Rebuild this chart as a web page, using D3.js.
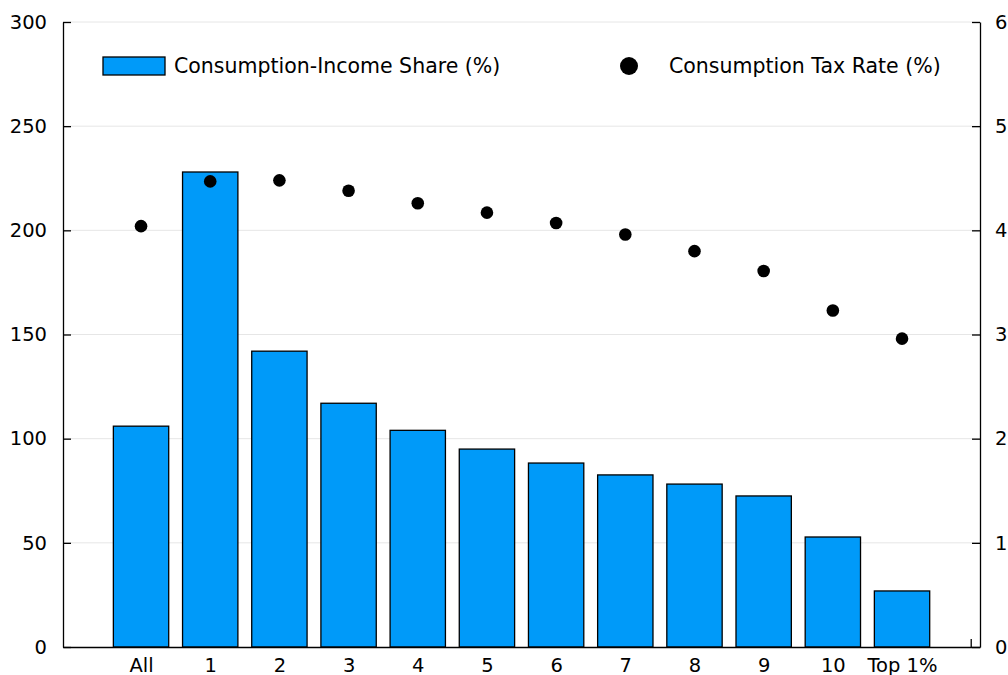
<!DOCTYPE html>
<html>
<head>
<meta charset="utf-8">
<script src="https://cdn.jsdelivr.net/npm/d3@7"></script>
<style>
  body { margin: 0; background: #fff; }
  svg { display: block; }
  svg text { font-family: "DejaVu Sans", sans-serif; }
</style>
</head>
<body>
<div id="chart"></div>
<script>
// data
const groups = ["All", "1", "2", "3", "4", "5", "6", "7", "8", "9", "10", "Top 1%"];
const shareValues = [106, 228, 142, 117, 104, 95, 88.3, 82.6, 78.2, 72.5, 52.8, 26.9];
const taxValues = [4.04, 4.47, 4.48, 4.38, 4.26, 4.17, 4.07, 3.96, 3.80, 3.61, 3.23, 2.96];
const leftTicks = [0, 50, 100, 150, 200, 250, 300];
const rightTicks = [0, 1, 2, 3, 4, 5, 6];

const W = 1008, H = 675;
// plot box edges
var box = { left: 63, right: 980, top: 22, bottom: 647 };
const blue = "#009af9";
const fontSize = 19.5;

const svg = d3.select("#chart").append("svg")
    .attr("width", W)
    .attr("height", H);

// scales
var x = d3.scaleLinear().domain([-0.128, 13.127]).range([box.left, box.right]);
var y = d3.scaleLinear().domain([0, 300]).range([box.bottom, box.top]);
var y2 = d3.scaleLinear().domain([0, 6]).range([box.bottom, box.top]);
const step = x(2) - x(1);
const barW = step * 0.8;

// grid
svg.append("g")
    .selectAll("line")
    .data(leftTicks.slice(1))
    .enter()
    .append("line")
    .attr("x1", box.left)
    .attr("x2", box.right)
    .attr("y1", d => y(d))
    .attr("y2", d => y(d))
    .attr("stroke", "#e6e6e6")
    .attr("stroke-width", 1);

// bars
svg.append("g")
    .selectAll("rect")
    .data(shareValues)
    .enter()
    .append("rect")
    .attr("x", (d, i) => x(i + 1) - barW / 2)
    .attr("width", barW)
    .attr("y", d => y(d))
    .attr("height", d => y(0) - y(d))
    .attr("fill", blue)
    .attr("stroke", "black")
    .attr("stroke-width", 1.3);

// dots
svg.append("g")
    .selectAll("circle")
    .data(taxValues)
    .enter()
    .append("circle")
    .attr("cx", (d, i) => x(i + 1))
    .attr("cy", d => y2(d))
    .attr("r", 6.3)
    .attr("fill", "black");

// left axis
const axL = svg.append("g")
    .attr("transform", "translate(" + box.left + ",0)")
    .call(d3.axisRight(y).tickValues(leftTicks).tickSize(8).tickSizeOuter(0));
axL.select(".domain").attr("stroke-width", 1.3);
axL.selectAll(".tick line").attr("stroke-width", 1.3);
axL.selectAll("text")
    .attr("x", -16)
    .attr("text-anchor", "end")
    .attr("font-size", fontSize)
    .attr("fill", "black");

// right axis
const axR = svg.append("g")
    .attr("transform", "translate(" + box.right + ",0)")
    .call(d3.axisLeft(y2).tickValues(rightTicks).tickSize(8).tickSizeOuter(0)
        .tickFormat(d3.format("d")));
axR.select(".domain").attr("stroke-width", 1.3);
axR.selectAll(".tick line").attr("stroke-width", 1.3);
axR.selectAll("text")
    .attr("x", 15)
    .attr("text-anchor", "start")
    .attr("font-size", fontSize)
    .attr("fill", "black");

// bottom axis
const axB = svg.append("g")
    .attr("transform", "translate(0," + box.bottom + ")")
    .call(d3.axisTop(x).tickValues(d3.range(1, 13)).tickSize(0).tickSizeOuter(0)
        .tickFormat((d) => groups[d - 1]));
axB.select(".domain").attr("stroke-width", 1.3);
axB.selectAll("text")
    .attr("y", 25)
    .attr("font-size", fontSize)
    .attr("fill", "black");
// small tick near the right end
svg.append("line")
    .attr("x1", x(13)).attr("x2", x(13))
    .attr("y1", box.bottom).attr("y2", box.bottom - 8)
    .attr("stroke", "black").attr("stroke-width", 1.3);

// legend
const leg = svg.append("g");
leg.append("rect")
    .attr("x", 103).attr("y", 57)
    .attr("width", 62).attr("height", 18)
    .attr("fill", blue)
    .attr("stroke", "black")
    .attr("stroke-width", 1.3);
leg.append("text")
    .attr("x", 174).attr("y", 73)
    .attr("font-size", 20.5)
    .text("Consumption-Income Share (%)");
leg.append("circle")
    .attr("cx", 629).attr("cy", 66)
    .attr("r", 9)
    .attr("fill", "black");
leg.append("text")
    .attr("x", 669).attr("y", 73)
    .attr("font-size", 20.5)
    .text("Consumption Tax Rate (%)");
</script>
</body>
</html>
